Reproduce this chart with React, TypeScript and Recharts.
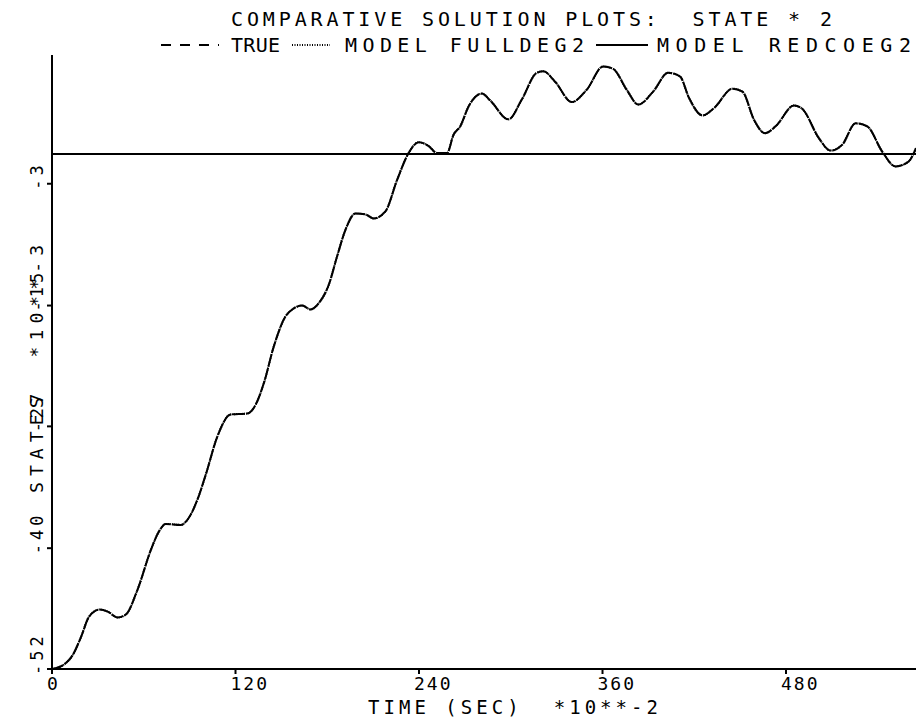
import { LineChart, Line, XAxis, YAxis } from "recharts"

// time in sec *10**-2, state in *10**-3
const times = [
  0, 9.1, 13.5, 18.9, 24.3, 30.9, 36.4, 42.9, 48.3, 55.9,
  64.6, 70.0, 74.4, 84.2, 89.6, 95.1, 100.5, 108.2, 116.8, 127.7,
  133.2, 138.6, 145.1, 152.7, 157.1, 163.6, 169.1, 174.5, 181.0, 186.5,
  191.9, 198.4, 205.0, 210.4, 218.0, 225.7, 233.2, 239.8, 246.3, 251.8,
  258.3, 262.6, 267.0, 272.4, 281.1, 286.6, 298.5, 307.2, 317.0, 321.3,
  329.0, 339.9, 349.7, 360.5, 367.0, 375.8, 383.4, 393.1, 402.9, 410.6,
  416.6, 425.4, 433.0, 445.0, 451.5, 459.1, 466.3, 473.2, 485.2, 490.7,
  501.5, 509.1, 516.8, 525.5, 533.1, 542.9, 551.6, 560.2, 565,
]

const stateTrue = [
  -52, -51.4, -50.6, -48.8, -46.7, -46.0, -46.2, -46.8, -46.5, -44.0,
  -40.0, -38.1, -37.35, -37.45, -36.7, -34.9, -32.4, -28.5, -26.3, -26.2,
  -25.3, -23.1, -19.4, -16.4, -15.7, -15.3, -15.7, -15.05, -13.2, -10.3,
  -7.65, -6.0, -6.1, -6.5, -5.8, -2.6, 0.1, 1.2, 0.8, 0.1,
  0.1, 1.95, 2.8, 4.8, 6.1, 5.4, 3.5, 5.5, 8.2, 8.35,
  7.3, 5.25, 6.5, 8.85, 8.6, 6.5, 5.0, 6.3, 8.2, 7.85,
  5.65, 3.9, 4.65, 6.6, 6.3, 3.45, 2.1, 2.8, 4.9, 4.55,
  1.6, 0.35, 0.95, 3.1, 2.8, 0.25, -1.25, -0.75, 0.6,
]

// FULLDEG2 model sits on top of the true curve
const stateFull = [...stateTrue]

// REDCOEG2 model stays flat
const redTimes = [0, 565]
const stateRed = [0, 0]

const xTicks = [0, 120, 240, 360, 480]
const yTickValues = [-52, -39.8, -27.5, -15.3, -3]
const yTickLabels = ["-52", "-40", "-27", "-15", "-3"]

const data = times.map((t, i) => ({ t, tru: stateTrue[i], full: stateFull[i] }))
const redData = redTimes.map((t, i) => ({ t, red: stateRed[i] }))

const FONT = "'DejaVu Sans Mono', monospace"

const XTick = (props: any) => {
  const { x, payload } = props
  return (
    <text x={x - 5} y={690} fontFamily={FONT} fontSize={18} letterSpacing={2} fill="#000">
      {payload.value}
    </text>
  )
}

const YTick = (props: any) => {
  const { y, index } = props
  return (
    <text
      transform={`translate(43,${y + 6}) rotate(-90)`}
      fontFamily={FONT}
      fontSize={17}
      letterSpacing={4}
      fill="#000"
    >
      {yTickLabels[index]}
    </text>
  )
}

export default function App() {
  return (
    <div style={{ position: "absolute", left: 0, top: 0, width: 916, height: 719, background: "#fff" }}>
      <LineChart width={916} height={719} data={data} margin={{ top: 55, right: 0, bottom: 0, left: 0 }}>
        <XAxis
          dataKey="t"
          type="number"
          domain={[0, 565]}
          ticks={xTicks}
          interval={0}
          allowDataOverflow
          height={50}
          axisLine={{ stroke: "#000", strokeWidth: 2 }}
          tickLine={{ stroke: "#000", strokeWidth: 2 }}
          tickSize={5}
          tick={<XTick />}
        />
        <YAxis
          type="number"
          domain={[-52, 10]}
          ticks={yTickValues}
          interval={0}
          allowDataOverflow
          width={52}
          axisLine={{ stroke: "#000", strokeWidth: 2 }}
          tickLine={{ stroke: "#000", strokeWidth: 2 }}
          tickSize={5}
          tick={<YTick />}
        />
        <Line
          data={redData}
          dataKey="red"
          type="linear"
          stroke="#000"
          strokeWidth={2}
          dot={false}
          isAnimationActive={false}
        />
        <Line
          dataKey="tru"
          type="monotone"
          stroke="#000"
          strokeWidth={2}
          strokeDasharray="12 1.5"
          dot={false}
          isAnimationActive={false}
        />
        <Line
          dataKey="full"
          type="monotone"
          stroke="#000"
          strokeWidth={2}
          strokeDasharray="1 1"
          dot={false}
          isAnimationActive={false}
        />
      </LineChart>

      <svg
        width={916}
        height={719}
        style={{ position: "absolute", left: 0, top: 0, pointerEvents: "none" }}
      >
        <g fontFamily={FONT} fill="#000">
          <text x={231} y={26} fontSize={20} textLength={601} lengthAdjust="spacing" xmlSpace="preserve">
            {"COMPARATIVE SOLUTION PLOTS:  STATE * 2"}
          </text>

          <line x1={161} y1={45} x2={219} y2={45} stroke="#000" strokeWidth={2} strokeDasharray="10 9" />
          <text x={231} y={52} fontSize={20} textLength={49} lengthAdjust="spacing">TRUE</text>
          <line x1={292} y1={45} x2={330} y2={45} stroke="#000" strokeWidth={2} strokeDasharray="1 1.5" />
          <text x={345} y={52} fontSize={20} textLength={239} lengthAdjust="spacing">MODEL FULLDEG2</text>
          <line x1={596} y1={45} x2={648} y2={45} stroke="#000" strokeWidth={2} />
          <text x={657} y={52} fontSize={20} textLength={254} lengthAdjust="spacing">MODEL REDCOEG2</text>

          <text x={368} y={714} fontSize={19} textLength={290} lengthAdjust="spacing" xmlSpace="preserve">
            {"TIME (SEC)  *10**-2"}
          </text>
          <text
            transform="translate(43,493) rotate(-90)"
            fontSize={18}
            textLength={248}
            lengthAdjust="spacing"
            xmlSpace="preserve"
          >
            {"STATES  *10**-3"}
          </text>
        </g>
      </svg>
    </div>
  )
}
